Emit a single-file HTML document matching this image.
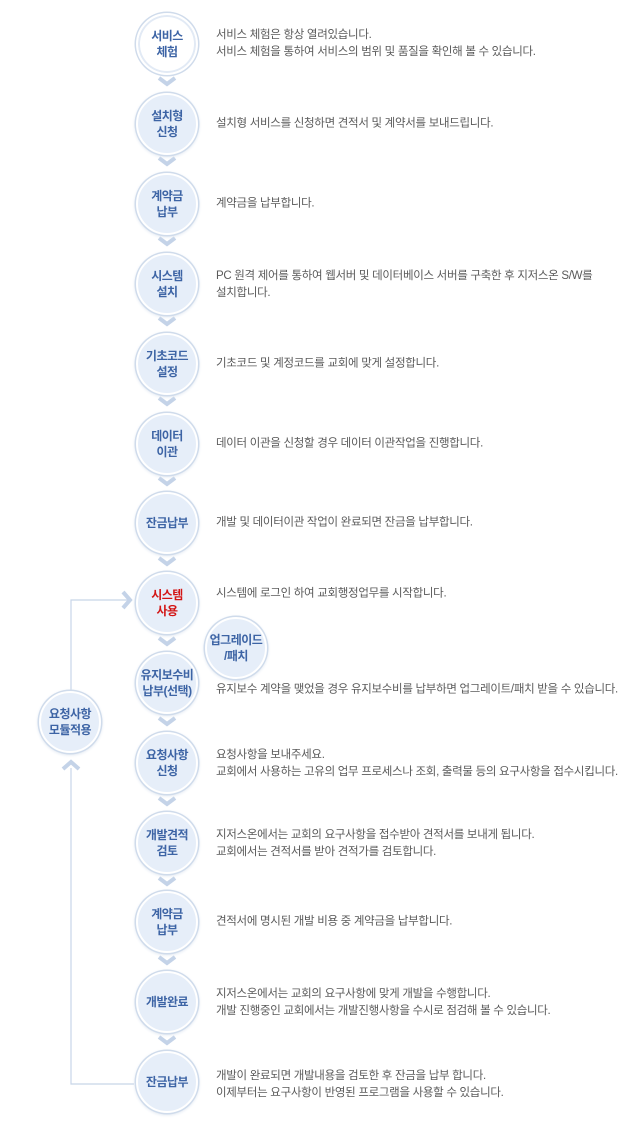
<!DOCTYPE html><html><head><meta charset="utf-8"><style>
body{margin:0;width:637px;height:1132px;background:#fff;position:relative;font-family:"Liberation Sans","Noto Sans CJK KR",sans-serif;overflow:hidden}
.c{position:absolute;width:58px;height:58px;border-radius:50%;background:#e6eef9;border:2px solid #fff;box-shadow:0 0 0 1.5px #cfdbeb,0 1px 3px 1px #dde5f0;display:flex;align-items:center;justify-content:center;text-align:center;color:#3d64a5;font-size:12px;font-weight:bold;line-height:16px;letter-spacing:-0.5px}
.c.w{background:#fff;box-shadow:0 0 0 1.5px #cfdbeb,inset 0 0 0 2px #e2eaf5}
.t{position:absolute;left:216px;font-size:11.5px;color:#5a5a5a;line-height:17px;letter-spacing:-0.3px;transform:translateY(-50%);white-space:nowrap}
</style></head><body>
<svg width="637" height="1132" style="position:absolute;left:0;top:0">
<g fill="none" stroke="#c7d5e8" stroke-width="1.2"><polyline points="71,768 71,1084 134,1084"/><polyline points="71,690 71,600 128,600"/></g>
<g fill="none" stroke="#c4d3e8" stroke-width="4">
<path d="M159,78 l8,6 l8,-6"/><path d="M159,158 l8,6 l8,-6"/><path d="M159,238 l8,6 l8,-6"/><path d="M159,318 l8,6 l8,-6"/><path d="M159,398 l8,6 l8,-6"/><path d="M159,478 l8,6 l8,-6"/><path d="M159,558 l8,6 l8,-6"/><path d="M159,638 l8,6 l8,-6"/><path d="M159,718 l8,6 l8,-6"/><path d="M159,798 l8,6 l8,-6"/><path d="M159,878 l8,6 l8,-6"/><path d="M159,957 l8,6 l8,-6"/><path d="M159,1037 l8,6 l8,-6"/>
<path d="M123,592 l7,8 l-7,8"/><path d="M63,769 l8,-7 l8,7"/></g></svg>
<div class="c w" style="left:136px;top:13px">서비스<br>체험</div>
<div class="c" style="left:136px;top:93px">설치형<br>신청</div>
<div class="c" style="left:136px;top:173px">계약금<br>납부</div>
<div class="c" style="left:136px;top:253px">시스템<br>설치</div>
<div class="c" style="left:136px;top:333px">기초코드<br>설정</div>
<div class="c" style="left:136px;top:413px">데이터<br>이관</div>
<div class="c" style="left:136px;top:492px">잔금납부</div>
<div class="c" style="left:136px;top:572px;color:#d31515">시스템<br>사용</div>
<div class="c" style="left:136px;top:652px">유지보수비<br>납부(선택)</div>
<div class="c" style="left:136px;top:732px">요청사항<br>신청</div>
<div class="c" style="left:136px;top:812px">개발견적<br>검토</div>
<div class="c" style="left:136px;top:891px">계약금<br>납부</div>
<div class="c" style="left:136px;top:971px">개발완료</div>
<div class="c" style="left:136px;top:1051px">잔금납부</div>
<div class="c" style="left:205px;top:617px">업그레이드<br>/패치</div>
<div class="c" style="left:39px;top:691px">요청사항<br>모듈적용</div>
<div class="t" style="top:44px">서비스 체험은 항상 열려있습니다.<br>서비스 체험을 통하여 서비스의 범위 및 품질을 확인해 볼 수 있습니다.</div>
<div class="t" style="top:124px">설치형 서비스를 신청하면 견적서 및 계약서를 보내드립니다.</div>
<div class="t" style="top:204px">계약금을 납부합니다.</div>
<div class="t" style="top:285px">PC 원격 제어를 통하여 웹서버 및 데이터베이스 서버를 구축한 후 지저스온 S/W를<br>설치합니다.</div>
<div class="t" style="top:364px">기초코드 및 계정코드를 교회에 맞게 설정합니다.</div>
<div class="t" style="top:444px">데이터 이관을 신청할 경우 데이터 이관작업을 진행합니다.</div>
<div class="t" style="top:523px">개발 및 데이터이관 작업이 완료되면 잔금을 납부합니다.</div>
<div class="t" style="top:594px">시스템에 로그인 하여 교회행정업무를 시작합니다.</div>
<div class="t" style="top:690px">유지보수 계약을 맺었을 경우 유지보수비를 납부하면 업그레이트/패치 받을 수 있습니다.</div>
<div class="t" style="top:764px">요청사항을 보내주세요.<br>교회에서 사용하는 고유의 업무 프로세스나 조회, 출력물 등의 요구사항을 접수시킵니다.</div>
<div class="t" style="top:844px">지저스온에서는 교회의 요구사항을 접수받아 견적서를 보내게 됩니다.<br>교회에서는 견적서를 받아 견적가를 검토합니다.</div>
<div class="t" style="top:922px">견적서에 명시된 개발 비용 중 계약금을 납부합니다.</div>
<div class="t" style="top:1003px">지저스온에서는 교회의 요구사항에 맞게 개발을 수행합니다.<br>개발 진행중인 교회에서는 개발진행사항을 수시로 점검해 볼 수 있습니다.</div>
<div class="t" style="top:1085px">개발이 완료되면 개발내용을 검토한 후 잔금을 납부 합니다.<br>이제부터는 요구사항이 반영된 프로그램을 사용할 수 있습니다.</div>
</body></html>
